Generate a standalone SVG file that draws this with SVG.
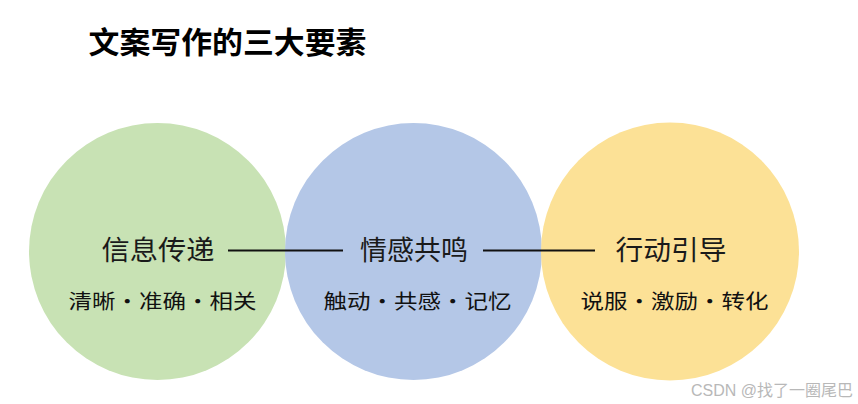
<svg xmlns="http://www.w3.org/2000/svg" width="858" height="404" viewBox="0 0 858 404">
  <style>
    .title { font-family: "Noto Sans CJK SC", "Liberation Sans", sans-serif; font-size: 30px; font-weight: bold; fill: #000; }
    .label { font-family: "Noto Sans CJK SC", "Liberation Sans", sans-serif; font-size: 27px; fill: #1a1a1a; }
    .sub { font-family: "Noto Sans CJK SC", "Liberation Sans", sans-serif; font-size: 20px; font-weight: normal; fill: #111; }
    .wm { font-family: "Liberation Sans", "Noto Sans CJK SC", sans-serif; font-size: 16px; fill: #b8b8b8; }
    .conn { stroke: #111; stroke-width: 2; fill: none; }
  </style>
  <rect width="858" height="404" fill="#ffffff"/>
  <text class="title" x="88.5" y="53" textLength="278" lengthAdjust="spacingAndGlyphs">文案写作的三大要素</text>

  <g id="node-info">
    <circle cx="157.5" cy="251.5" r="128.5" fill="#C8E2B4"/>
    <text class="label" x="101.5" y="260" textLength="113" lengthAdjust="spacingAndGlyphs">信息传递</text>
    <text class="sub" x="68.5" y="308.5" textLength="188" lengthAdjust="spacingAndGlyphs">清晰・准确・相关</text>
  </g>
  <g id="node-emotion">
    <circle cx="413.5" cy="251.5" r="128.5" fill="#B4C7E7"/>
    <text class="label" x="360" y="260" textLength="108" lengthAdjust="spacingAndGlyphs">情感共鸣</text>
    <text class="sub" x="323.5" y="308.5" textLength="188" lengthAdjust="spacingAndGlyphs">触动・共感・记忆</text>
  </g>
  <g id="node-action">
    <circle cx="670" cy="251.5" r="129" fill="#FCE196"/>
    <text class="label" x="615.5" y="260" textLength="111" lengthAdjust="spacingAndGlyphs">行动引导</text>
    <text class="sub" x="580.5" y="308.5" textLength="188" lengthAdjust="spacingAndGlyphs">说服・激励・转化</text>
  </g>

  <g id="connectors">
    <line class="conn" x1="228" y1="250.5" x2="343" y2="250.5"/>
    <line class="conn" x1="483" y1="250.5" x2="595" y2="250.5"/>
  </g>

  <text class="wm" x="691" y="396" textLength="162" lengthAdjust="spacingAndGlyphs">CSDN @找了一圈尾巴</text>
</svg>
